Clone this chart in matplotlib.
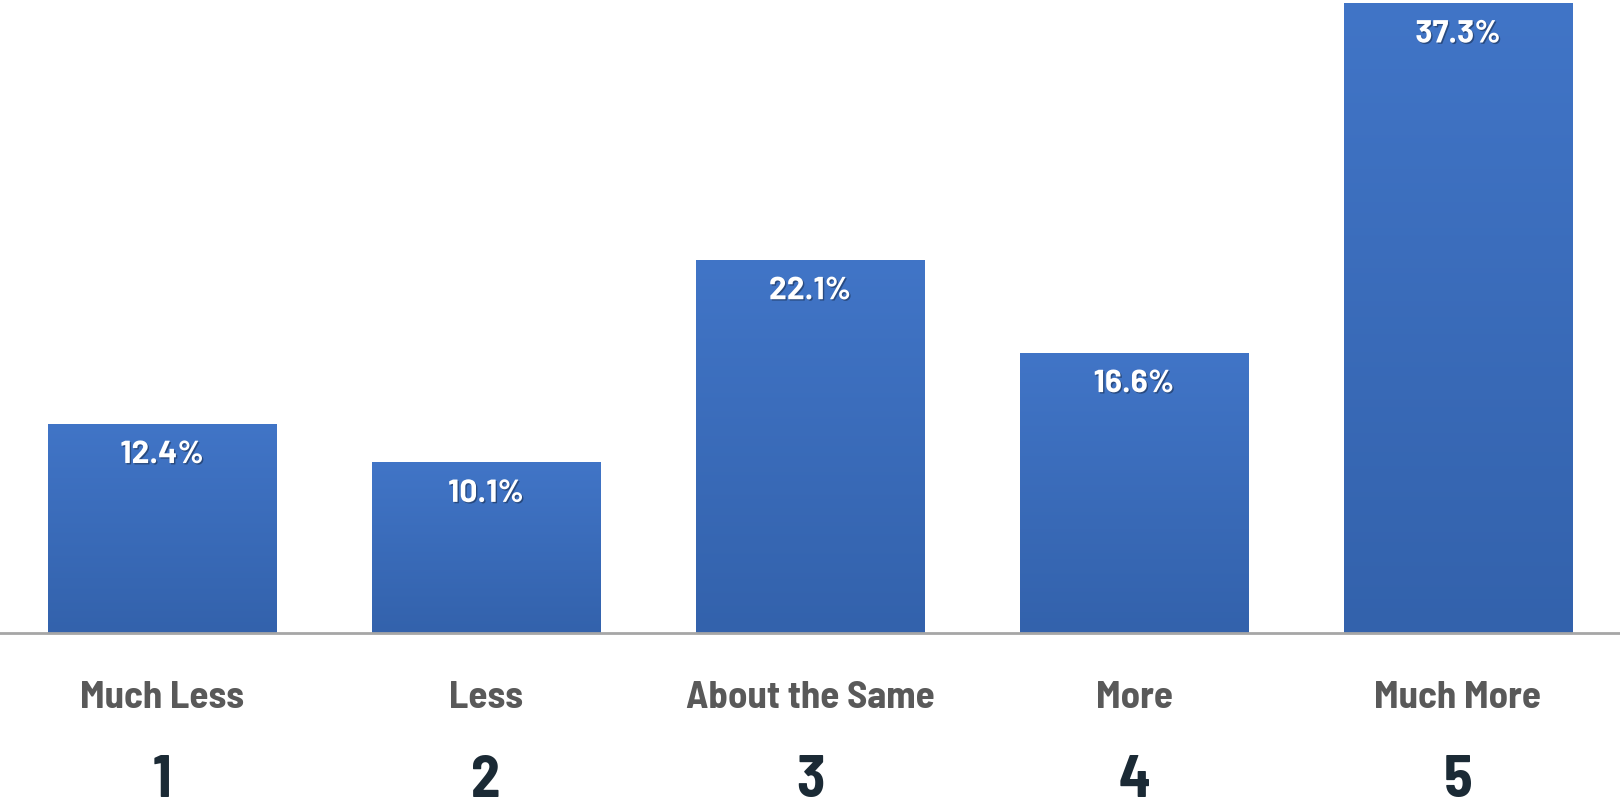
import numpy as np
import matplotlib
matplotlib.use("Agg")
import matplotlib.pyplot as plt
import matplotlib.patheffects as pe

categories = ["Much Less", "Less", "About the Same", "More", "Much More"]
scale_points = ["1", "2", "3", "4", "5"]
shares = [12.4, 10.1, 22.1, 16.6, 37.3]

fig = plt.figure(figsize=(16.2, 8.02), dpi=100)
ax = fig.add_axes([0.0, 1 - 633 / 802, 1.0, 633 / 802])
ax.set_xlim(-0.5, 4.5)
ax.set_ylim(0, 37.3 + 3 / 16.9)
ax.axis("off")

x = np.arange(len(categories))
bars = ax.bar(x, shares, width=0.705, color="#3A6BBA", edgecolor="#C8CED8", linewidth=0.6, zorder=2)

# vertical gradient fill inside each bar
grad = np.linspace(0, 1, 256).reshape(-1, 1)
top_c = np.array([0x41, 0x75, 0xC7]) / 255
bot_c = np.array([0x33, 0x62, 0xAC]) / 255
img = top_c[None, None, :] * (1 - grad[:, :, None]) + bot_c[None, None, :] * grad[:, :, None]
for b in bars:
    im = ax.imshow(img, extent=[b.get_x(), b.get_x() + b.get_width(), 0, b.get_height()],
                   aspect="auto", origin="upper", zorder=3)
    im.set_clip_path(b)

ax.axhline(0, color="#A6A6A6", linewidth=2, zorder=4, clip_on=False)

shadow = [pe.SimplePatchShadow(offset=(1, -1), shadow_rgbFace="black", alpha=0.35), pe.Normal()]
for xi, v in zip(x, shares):
    ax.text(xi, v - 31 / 16.9, f"{v}%", ha="center", va="center", color="white",
            fontsize=23, fontweight="bold", family=["Barlow", "DejaVu Sans"],
            path_effects=shadow, zorder=5)

for i, (c, n) in enumerate(zip(categories, scale_points)):
    xf = (i + 0.5) / len(categories)
    fig.text(xf, 1 - 708 / 802, c, ha="center", va="baseline", color="#595959",
             fontsize=28, fontweight="bold", family=["Barlow Semi Condensed", "DejaVu Sans"])
    fig.text(xf, 1 - 797 / 802, n, ha="center", va="baseline", color="#1B2A35",
             fontsize=42, fontweight="bold", family=["Barlow Semi Condensed", "DejaVu Sans"])

fig.savefig("out.png", dpi=100)
